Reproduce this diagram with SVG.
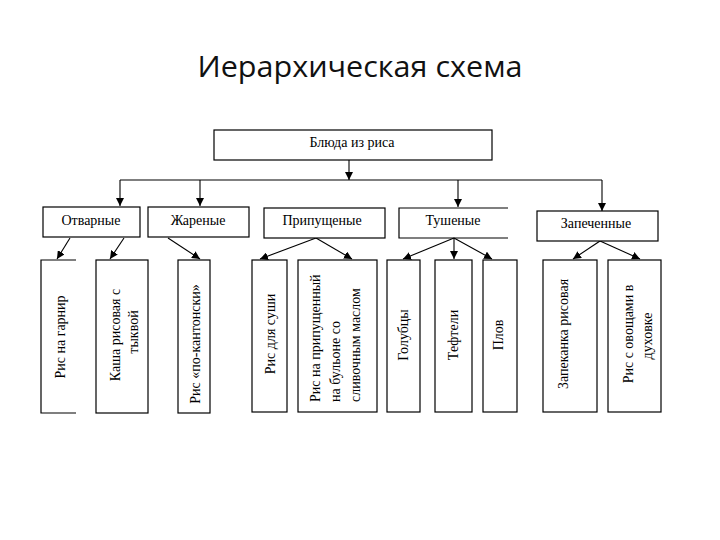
<svg xmlns="http://www.w3.org/2000/svg" width="720" height="540" viewBox="0 0 720 540">
<defs>
<marker id="ah" markerUnits="userSpaceOnUse" markerWidth="8" markerHeight="8" refX="8" refY="4" orient="auto">
<path d="M0,0 L8,4 L0,8 z" fill="#000"/>
</marker>
<style>
.box{fill:#fff;stroke:#000;stroke-width:1.2}
.open{fill:none;stroke:#000;stroke-width:1.2}
.t{font-family:"Liberation Serif","Times New Roman",serif;font-size:14px;fill:#000}
.c{text-anchor:middle}
.ln{fill:none;stroke:#000;stroke-width:1.1}
.ar{fill:none;stroke:#000;stroke-width:1.1;marker-end:url(#ah)}
</style>
</defs>
<rect width="720" height="540" fill="#fff"/>
<text x="360" y="77" text-anchor="middle" font-family="'Open Sans','Liberation Sans',sans-serif" font-size="30" textLength="325" lengthAdjust="spacingAndGlyphs" fill="#111">Иерархическая схема</text>

<g id="connectors">
<path class="ar" d="M349,160 V180"/>
<path class="ln" d="M120,180 H602"/>
<path class="ar" d="M120,180 V206"/>
<path class="ar" d="M200,180 V206"/>
<path class="ar" d="M458,180 V207"/>
<path class="ar" d="M602,180 V211"/>
<path class="ar" d="M70,238 L57,259"/>
<path class="ar" d="M124,238 L110,259"/>
<path class="ar" d="M168,238 L200,259"/>
<path class="ar" d="M316,238 L260,259"/>
<path class="ar" d="M316,238 L352,259"/>
<path class="ar" d="M454,238 L403,259"/>
<path class="ar" d="M454,238 L454,259"/>
<path class="ar" d="M454,238 L492,259"/>
<path class="ar" d="M600,241 L573,259"/>
<path class="ar" d="M600,241 L640,259"/>
</g>

<g id="root">
<rect class="box" x="214" y="130" width="278" height="30"/>
<text class="t c" x="352" y="147">Блюда из риса</text>
</g>

<g id="cat-otvarnye">
<rect class="box" x="43" y="207" width="97" height="30"/>
<text class="t c" x="91" y="225">Отварные</text>
</g>
<g id="cat-zharenye">
<rect class="box" x="148" y="207" width="101" height="30"/>
<text class="t c" x="198" y="225">Жареные</text>
</g>
<g id="cat-pripushchenye">
<rect class="box" x="264" y="208" width="121" height="30"/>
<text class="t c" x="322" y="225">Припущеные</text>
</g>
<g id="cat-tushenye">
<path class="open" d="M508,208 H399 V238 H508"/>
<text class="t c" x="453" y="225">Тушеные</text>
</g>
<g id="cat-zapechennye">
<rect class="box" x="537" y="211" width="121" height="30"/>
<text class="t c" x="596" y="228">Запеченные</text>
</g>

<g id="leaf-1">
<path class="open" d="M76,260 H41 V413 H76"/>
<text class="t c" transform="translate(65,337) rotate(-90)">Рис на гарнир</text>
</g>
<g id="leaf-2">
<rect class="box" x="96" y="260" width="52" height="153"/>
<text class="t c" transform="translate(120,335) rotate(-90)">Каша рисовая с</text>
<text class="t c" transform="translate(138,332) rotate(-90)">тыквой</text>
</g>
<g id="leaf-3">
<rect class="box" x="178" y="260" width="32" height="153"/>
<text class="t c" transform="translate(200,344) rotate(-90)">Рис «по-кантонски»</text>
</g>
<g id="leaf-4">
<rect class="box" x="252" y="260" width="35" height="152"/>
<text class="t c" transform="translate(275,334) rotate(-90)">Рис для суши</text>
</g>
<g id="leaf-5">
<rect class="box" x="298" y="260" width="79" height="152"/>
<text class="t" transform="translate(320,402) rotate(-90)">Рис на припущенный</text>
<text class="t" transform="translate(340,402) rotate(-90)">на бульоне  со</text>
<text class="t" transform="translate(360,402) rotate(-90)">сливочным маслом</text>
</g>
<g id="leaf-6">
<rect class="box" x="387" y="260" width="33" height="152"/>
<text class="t c" transform="translate(408,335) rotate(-90)">Голубцы</text>
</g>
<g id="leaf-7">
<rect class="box" x="435" y="260" width="37" height="152"/>
<text class="t c" transform="translate(458,335) rotate(-90)">Тефтели</text>
</g>
<g id="leaf-8">
<rect class="box" x="483" y="260" width="34" height="152"/>
<text class="t c" transform="translate(503,335) rotate(-90)">Плов</text>
</g>
<g id="leaf-9">
<rect class="box" x="543" y="260" width="54" height="152"/>
<text class="t c" transform="translate(568,334) rotate(-90)">Запеканка рисовая</text>
</g>
<g id="leaf-10">
<rect class="box" x="608" y="260" width="53" height="152"/>
<text class="t c" transform="translate(633,334) rotate(-90)">Рис с овощами  в</text>
<text class="t c" transform="translate(652,336) rotate(-90)">духовке</text>
</g>
</svg>
